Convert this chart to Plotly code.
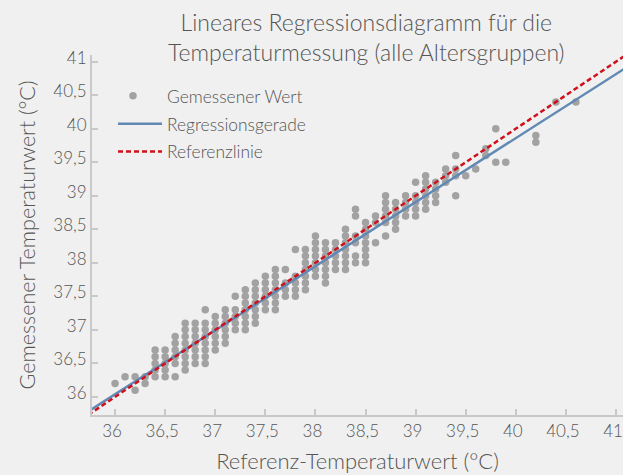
import plotly.graph_objects as go

# ---- data -------------------------------------------------------------------
# measured values per reference-temperature column (°C)
ref_cols = [36.0, 36.1, 36.2, 36.3, 36.4, 36.5, 36.6, 36.7, 36.8, 36.9,
            37.0, 37.1, 37.2, 37.3, 37.4, 37.5, 37.6, 37.7, 37.8, 37.9,
            38.0, 38.1, 38.2, 38.3, 38.4, 38.5, 38.6, 38.7, 38.8, 38.9,
            39.0, 39.1, 39.2, 39.3, 39.4, 39.5, 39.6, 39.7, 39.8, 39.9,
            40.2, 40.4, 40.6]
meas_cols = [
    [36.2],
    [36.3],
    [36.3, 36.1],
    [36.3, 36.2],
    [36.7, 36.6, 36.5, 36.4, 36.3],
    [36.7, 36.6, 36.5, 36.4, 36.3],
    [36.9, 36.8, 36.7, 36.6, 36.5, 36.3],
    [37.1, 37.0, 36.9, 36.8, 36.7, 36.6, 36.5, 36.4],
    [37.1, 37.0, 36.9, 36.8, 36.7, 36.6, 36.5],
    [37.3, 37.1, 37.0, 36.9, 36.8, 36.7, 36.6, 36.5],
    [37.2, 37.1, 37.0, 36.9, 36.8, 36.7],
    [37.3, 37.2, 37.1, 37.0, 36.9, 36.8],
    [37.5, 37.3, 37.2, 37.1, 37.0],
    [37.6, 37.5, 37.4, 37.3, 37.2, 37.1, 37.0],
    [37.7, 37.6, 37.5, 37.4, 37.3, 37.2, 37.1],
    [37.8, 37.7, 37.6, 37.5, 37.4, 37.3],
    [37.9, 37.8, 37.7, 37.6, 37.5, 37.4, 37.3],
    [37.9, 37.7, 37.6, 37.5],
    [38.2, 37.8, 37.7, 37.6, 37.5],
    [38.2, 38.1, 38.0, 37.9, 37.8, 37.7, 37.6],
    [38.4, 38.3, 38.2, 38.1, 38.0, 37.9, 37.8],
    [38.3, 38.2, 38.1, 38.0, 37.9, 37.8, 37.7],
    [38.3, 38.2, 38.1, 38.0, 37.9],
    [38.5, 38.4, 38.3, 38.2, 38.1, 38.0, 37.9],
    [38.8, 38.7, 38.4, 38.3, 38.1, 38.0],
    [38.6, 38.5, 38.4, 38.3, 38.2, 38.1, 38.0],
    [38.7, 38.6, 38.3],
    [39.0, 38.9, 38.8, 38.7, 38.6, 38.4],
    [38.9, 38.8, 38.7, 38.6, 38.5],
    [39.0, 38.9, 38.8, 38.7],
    [39.2, 39.0, 38.9, 38.8, 38.7],
    [39.3, 39.2, 39.1, 39.0, 38.9, 38.8],
    [39.2, 39.1, 39.0, 38.9],
    [39.4, 39.3, 39.2],
    [39.6, 39.4, 39.3, 39.0],
    [39.3],
    [39.4],
    [39.7, 39.6],
    [40.0, 39.5],
    [39.5],
    [39.9, 39.8],
    [40.4],
    [40.4],
]

# regression line
reg_slope = 0.955
reg_intercept = 1.66
line_x = [35.6, 41.3]

tick_vals = [36, 36.5, 37, 37.5, 38, 38.5, 39, 39.5, 40, 40.5, 41]
tick_text = ["36", "36,5", "37", "37,5", "38", "38,5", "39", "39,5", "40", "40,5", "41"]

title_text = "Lineares Regressionsdiagramm für die<br>Temperaturmessung (alle Altersgruppen)"
x_title = "Referenz-Temperaturwert (°C)"
y_title = "Gemessener Temperaturwert (°C)"
names = ["Gemessener Wert", "Regressionsgerade", "Referenzlinie"]

# ---- build -------------------------------------------------------------------
pts_x, pts_y = [], []
for xv, col in zip(ref_cols, meas_cols):
    for yv in col:
        pts_x.append(xv)
        pts_y.append(yv)

reg_y = [reg_slope * v + reg_intercept for v in line_x]

FONT = "Lato, Open Sans, DejaVu Sans, sans-serif"
TXT = "#555555"
AX = "#c9c9c9"
BG = "#f0f0f0"

fig = go.Figure()
fig.add_trace(go.Scatter(
    x=pts_x, y=pts_y, mode="markers", name=names[0], legend="legend2",
    marker=dict(color="#a2a2a2", size=7.5, line=dict(width=0)),
))
fig.add_trace(go.Scatter(
    x=line_x, y=reg_y, mode="lines", name=names[1], legendgroup="b",
    line=dict(color="#6189b3", width=2.5),
))
fig.add_trace(go.Scatter(
    x=line_x, y=line_x, mode="lines", name=names[2], legendgroup="c",
    line=dict(color="#d0101b", width=2.5, dash="5px,3px"),
))

axis_common = dict(
    showgrid=False, zeroline=False, showline=True, linecolor=AX, linewidth=2,
    ticks="inside", tickcolor=AX, ticklen=6, tickwidth=1.5,
    tickvals=tick_vals, ticktext=tick_text, ticklabeloverflow="allow",
    tickfont=dict(family=FONT, size=17, color=TXT, weight=300),
)

legend_font = dict(family=FONT, size=17.4, color=TXT, weight=300)

fig.update_layout(
    width=623, height=475,
    paper_bgcolor=BG, plot_bgcolor=BG,
    margin=dict(l=92, r=0, t=55, b=60),
    font=dict(family=FONT, color=TXT, weight=300),
    title=dict(text=title_text, x=0.588, xanchor="center", y=0.935, yanchor="top",
               font=dict(family=FONT, size=23, color=TXT, weight=300)),
    xaxis=dict(range=[35.77, 41.07], ticklabelshift=-3,
               title=dict(text=x_title, standoff=13,
                          font=dict(family=FONT, size=22, color=TXT, weight=300)),
               **axis_common),
    yaxis=dict(range=[35.73, 41.10], ticklabelshift=-4,
               title=dict(text=y_title, standoff=12,
                          font=dict(family=FONT, size=21.5, color=TXT, weight=300)),
               **axis_common),
    legend=dict(x=(113 - 92) / 531, y=1 - 51 / 360, xanchor="left", yanchor="top",
                bgcolor="rgba(0,0,0,0)", traceorder="grouped", tracegroupgap=2,
                itemwidth=44, font=legend_font),
    legend2=dict(x=(99 - 92) / 531, y=1 - 23 / 360, xanchor="left", yanchor="top",
                 bgcolor="rgba(0,0,0,0)", itemwidth=58, font=legend_font),
    showlegend=True,
)

fig.write_html("out.html", config={"displayModeBar": False},
               post_script="document.body.style.margin='0';")
